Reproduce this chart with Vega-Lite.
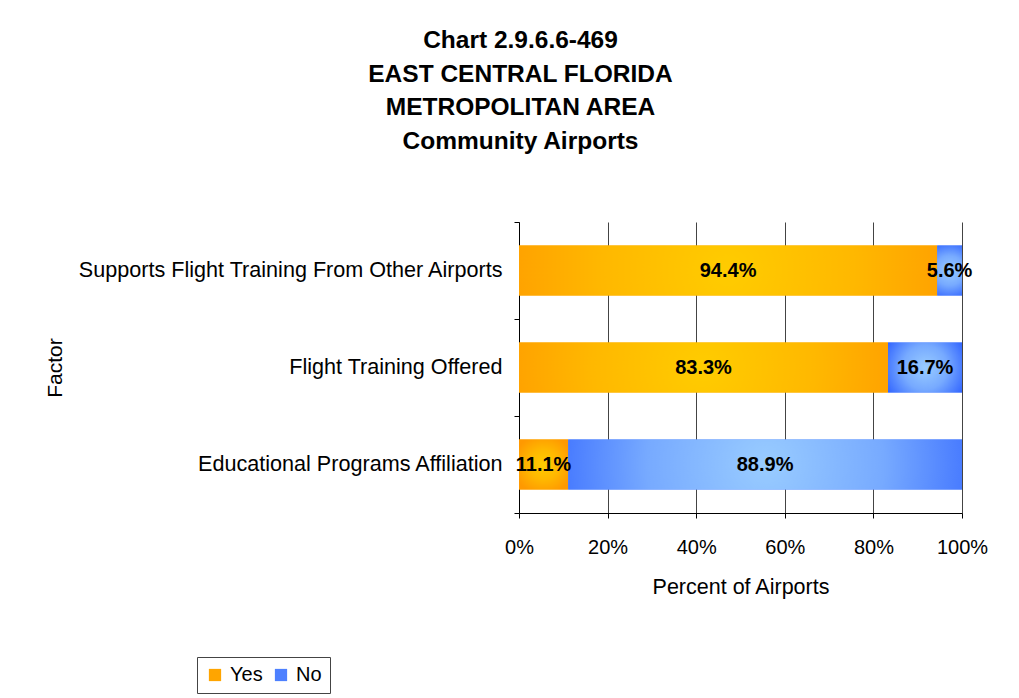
{
  "$schema": "https://vega.github.io/schema/vega-lite/v6.json",
  "width": 443,
  "height": 291,
  "autosize": {"type": "none"},
  "padding": {"left": 519, "top": 222, "right": 57, "bottom": 185},
  "background": "white",
  "config": {
    "font": "Liberation Sans",
    "view": {"stroke": null},
    "axis": {"labelColor": "black", "titleColor": "black", "domainColor": "black", "tickColor": "black", "titleFontWeight": "normal", "labelFont": "Liberation Sans", "titleFont": "Liberation Sans"}
  },
  "title": {
    "text": ["Chart 2.9.6.6-469", "EAST CENTRAL FLORIDA", "METROPOLITAN AREA", "Community Airports"],
    "font": "Liberation Sans",
    "fontSize": 24.5,
    "fontWeight": "bold",
    "lineHeight": 33.5,
    "anchor": "middle",
    "dx": -220,
    "offset": 57,
    "color": "black"
  },
  "data": {
    "values": [
      {"Factor": "Supports Flight Training From Other Airports", "Answer": "Yes", "Percent": 0.944},
      {"Factor": "Supports Flight Training From Other Airports", "Answer": "No", "Percent": 0.056},
      {"Factor": "Flight Training Offered", "Answer": "Yes", "Percent": 0.833},
      {"Factor": "Flight Training Offered", "Answer": "No", "Percent": 0.167},
      {"Factor": "Educational Programs Affiliation", "Answer": "Yes", "Percent": 0.111},
      {"Factor": "Educational Programs Affiliation", "Answer": "No", "Percent": 0.889}
    ]
  },
  "transform": [
    {"calculate": "datum.Answer === 'Yes' ? 0 : 1", "as": "order"},
    {"stack": "Percent", "groupby": ["Factor"], "sort": [{"field": "order"}], "as": ["start", "end"]},
    {"calculate": "(datum.start + datum.end) / 2", "as": "mid"}
  ],
  "encoding": {
    "y": {
      "field": "Factor",
      "type": "nominal",
      "sort": ["Supports Flight Training From Other Airports", "Flight Training Offered", "Educational Programs Affiliation"],
      "scale": {"paddingInner": 0, "paddingOuter": 0},
      "axis": {
        "title": "Factor",
        "titleFontSize": 21,
        "titleX": -454,
        "labelFontSize": 21.6,
        "labelPadding": 12,
        "labelLimit": 0,
        "tickBand": "extent",
        "tickSize": 5
      }
    }
  },
  "layer": [
    {
      "mark": {"type": "bar", "height": {"band": 0.515}},
      "encoding": {
        "x": {
          "field": "start",
          "type": "quantitative",
          "scale": {"domain": [0, 1]},
          "axis": {
            "format": ".0%",
            "values": [0, 0.2, 0.4, 0.6, 0.8, 1],
            "title": "Percent of Airports",
            "titleFontSize": 21.5,
            "labelFontSize": 20,
            "labelFlush": false,
            "grid": true,
            "gridColor": "#444444",
            "gridOpacity": 1,
            "tickSize": 5,
            "labelPadding": 19,
            "titlePadding": 19
          }
        },
        "x2": {"field": "end"},
        "color": {
          "field": "Answer",
          "type": "nominal",
          "sort": ["Yes", "No"],
          "scale": {"domain": ["Yes", "No"], "range": ["#FFA500", "#4D80FF"]},
          "legend": {
            "title": null,
            "orient": "none",
            "legendX": -322,
            "legendY": 435,
            "direction": "horizontal",
            "symbolType": "square",
            "symbolSize": 150,
            "symbolStrokeWidth": 0,
            "symbolOpacity": 1,
            "labelFontSize": 20,
            "labelColor": "black",
            "labelFont": "Liberation Sans",
            "columnPadding": 8,
            "labelOffset": 5,
            "strokeColor": "#444444",
            "padding": 8,
            "fillColor": "white"
          }
        }
      }
    },
    {
      "transform": [{"filter": "datum.Answer === 'Yes'"}],
      "mark": {
        "type": "bar",
        "height": {"band": 0.515},
        "color": {"gradient": "radial", "x1": 0.5, "y1": 0.5, "r1": 0, "x2": 0.5, "y2": 0.5, "r2": 0.6, "stops": [{"offset": 0, "color": "#FFCC00"}, {"offset": 0.5, "color": "#FFB800"}, {"offset": 1, "color": "#FF9900"}]}
      },
      "encoding": {
        "x": {"field": "start", "type": "quantitative"},
        "x2": {"field": "end"}
      }
    },
    {
      "transform": [{"filter": "datum.Answer === 'No'"}],
      "mark": {
        "type": "bar",
        "height": {"band": 0.515},
        "color": {"gradient": "radial", "x1": 0.5, "y1": 0.5, "r1": 0, "x2": 0.5, "y2": 0.5, "r2": 0.6, "stops": [{"offset": 0, "color": "#99CCFF"}, {"offset": 0.5, "color": "#77AAFF"}, {"offset": 1, "color": "#3366FF"}]}
      },
      "encoding": {
        "x": {"field": "start", "type": "quantitative"},
        "x2": {"field": "end"}
      }
    },
    {
      "mark": {"type": "text", "fontSize": 20, "fontWeight": "bold", "color": "black", "font": "Liberation Sans"},
      "encoding": {
        "x": {"field": "mid", "type": "quantitative"},
        "text": {"field": "Percent", "type": "quantitative", "format": ".1%"}
      }
    }
  ]
}
